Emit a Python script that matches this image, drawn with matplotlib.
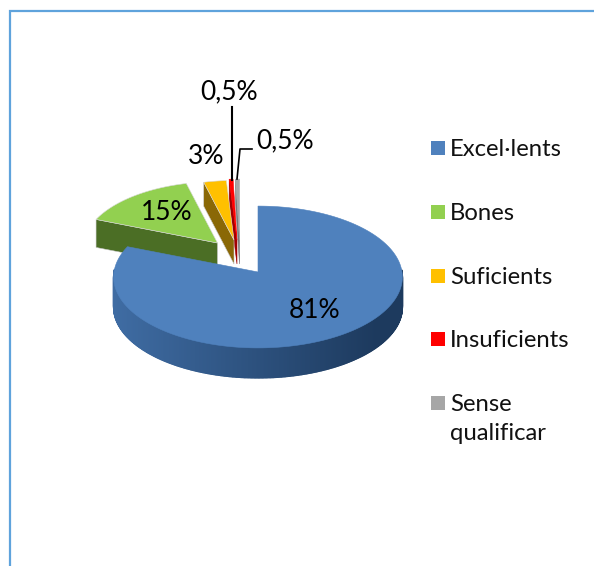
import numpy as np
import matplotlib
matplotlib.use("Agg")
import matplotlib.pyplot as plt
from matplotlib.patches import Polygon, Rectangle
from matplotlib.colors import to_rgb

categories = ["Excel·lents", "Bones", "Suficients", "Insuficients", "Sense\nqualificar"]
values = [81, 15, 3, 0.5, 0.5]
value_labels = ["81%", "15%", "3%", "0,5%", "0,5%"]

top_colors = ["#4f81bd", "#92d050", "#ffc000", "#ff0000", "#a6a6a6"]
side_colors = ["#3f6ca3", "#4b6e25", "#8a6806", "#a00000", "#777777"]
side_colors_dark = ["#1d3a5e", "#3f5f1e", "#8a6806", "#a00000", "#777777"]

# Layout of each exploded slice, in pixels: apex x, apex y, radius, extrusion
layout = [(258, 272, 144, 30), (217.5, 243, 134, 28), (234, 240, 130, 24),
          (237, 240, 133, 24), (239.5, 240, 133, 24)]
persp = 0.0704
squash = 0.49
W, H = 594, 566

fig = plt.figure(figsize=(W / 100, H / 100), dpi=100)
ax = fig.add_axes([0, 0, 1, 1])
ax.set_xlim(0, W)
ax.set_ylim(H, 0)
ax.axis("off")
plt.rcParams["font.family"] = ["Lato", "DejaVu Sans"]

# page frame
ax.plot([10, 10, W], [H, 11, 11], color="#5fa3dc", lw=1.6, solid_joinstyle="miter")


def project(theta, ax0, ay0, R):
    t = np.radians(theta)
    u, v = np.sin(t), np.cos(t)
    s = 1 / (1 + persp * v)
    return ax0 + R * u * s, ay0 - R * squash * v * s


def mix(a, b, f):
    a, b = np.array(to_rgb(a)), np.array(to_rgb(b))
    return tuple(a + (b - a) * f)


fractions = np.array(values) / sum(values) * 360
starts = np.concatenate([[0], np.cumsum(fractions)[:-1]])

# draw back slices first, the main slice last
for i in [4, 3, 2, 1, 0]:
    a0, a1 = starts[i], starts[i] + fractions[i]
    x0, y0, R, d = layout[i]
    th = np.linspace(a0, a1, max(int(fractions[i] * 2), 4))
    xs, ys = project(th, x0, y0, R)
    # outer side, front facing part only
    for j in range(len(th) - 1):
        tm = (th[j] + th[j + 1]) / 2
        if 88 < tm < 272:
            f = (xs[j] - (x0 - R)) / (2 * R)
            c = mix(side_colors[i], side_colors_dark[i], np.clip(f * 1.1, 0, 1))
            ax.add_patch(Polygon([(xs[j], ys[j]), (xs[j + 1], ys[j + 1]),
                                  (xs[j + 1], ys[j + 1] + d), (xs[j], ys[j] + d)],
                                 closed=True, fc=c, ec=c, lw=1.0, zorder=2 + (4 - i)))
    # cut face at the start edge
    if 180 < a0 < 360:
        edge = "#c9c9c9" if i < 3 else side_colors[i]
        ax.add_patch(Polygon([(xs[0], ys[0]), (x0, y0), (x0, y0 + d), (xs[0], ys[0] + d)],
                             closed=True, fc=side_colors[i], ec=edge, lw=0.4,
                             zorder=2 + (4 - i)))
    edge = "#d8d8d8" if i in (1, 2) else top_colors[i]
    ax.add_patch(Polygon(np.r_[[(x0, y0)], np.c_[xs, ys]], closed=True, fc=top_colors[i],
                         ec=edge, lw=0.4, zorder=2.5 + (4 - i)))

# leader lines
ax.plot([232, 232], [107, 180], color="black", lw=1.5, zorder=10)
ax.plot([252, 240, 237], [149, 149, 179], color="black", lw=1.2, zorder=10)

# value labels
label_xy = [(315, 310), (167, 212), (206, 156), (229, 92), (285, 141)]
for t, (x, y) in zip(value_labels, label_xy):
    ax.text(x, y, t, fontsize=19, color="black", ha="center", va="center", zorder=12)

# legend
rows = [148, 212, 276, 339, 403]
for name, col, y in zip(categories, top_colors, rows):
    ax.add_patch(Rectangle((431, y - 7), 14, 14, fc=col, ec="none", zorder=5))
    ax.text(450, y - 9, name, fontsize=17.2, color="#111111", ha="left", va="top",
            linespacing=1.5, zorder=5)

fig.savefig("out.png", dpi=100)
